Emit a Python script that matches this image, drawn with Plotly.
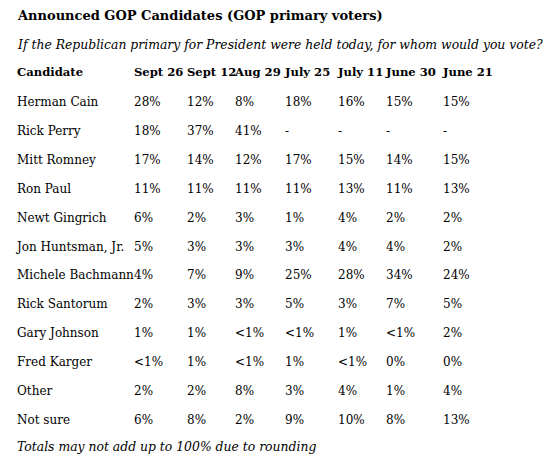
import plotly.graph_objects as go

# --- Data ---
TITLE = "Announced GOP Candidates (GOP primary voters)"
QUESTION = "If the Republican primary for President were held today, for whom would you vote?"
FOOTNOTE = "Totals may not add up to 100% due to rounding"

poll_dates = ["Sept 26", "Sept 12", "Aug 29", "July 25", "July 11", "June 30", "June 21"]

candidates = [
    "Herman Cain", "Rick Perry", "Mitt Romney", "Ron Paul", "Newt Gingrich",
    "Jon Huntsman, Jr.", "Michele Bachmann", "Rick Santorum", "Gary Johnson",
    "Fred Karger", "Other", "Not sure",
]

herman_cain = ["28%", "12%", "8%", "18%", "16%", "15%", "15%"]
rick_perry = ["18%", "37%", "41%", "-", "-", "-", "-"]
mitt_romney = ["17%", "14%", "12%", "17%", "15%", "14%", "15%"]
ron_paul = ["11%", "11%", "11%", "11%", "13%", "11%", "13%"]
newt_gingrich = ["6%", "2%", "3%", "1%", "4%", "2%", "2%"]
jon_huntsman = ["5%", "3%", "3%", "3%", "4%", "4%", "2%"]
michele_bachmann = ["4%", "7%", "9%", "25%", "28%", "34%", "24%"]
rick_santorum = ["2%", "3%", "3%", "5%", "3%", "7%", "5%"]
gary_johnson = ["1%", "1%", "<1%", "<1%", "1%", "<1%", "2%"]
fred_karger = ["<1%", "1%", "<1%", "1%", "<1%", "0%", "0%"]
other = ["2%", "2%", "8%", "3%", "4%", "1%", "4%"]
not_sure = ["6%", "8%", "2%", "9%", "10%", "8%", "13%"]

rows = [herman_cain, rick_perry, mitt_romney, ron_paul, newt_gingrich,
        jon_huntsman, michele_bachmann, rick_santorum, gary_johnson,
        fred_karger, other, not_sure]

# --- Layout (page pixel space) ---
W, H = 558, 459
PAGE_MARGIN = 8  # default body margin of the html page
LEFT = 17
COL_X = [134, 187, 235, 285, 338, 386, 443]
HEADER_Y = 73.5
ROW0_Y = 103
ROW_STEP = 28.9
FONT = "DejaVu Serif"
SIZE = 12
HEADER_SIZE = 11.6
TITLE_SIZE = 13
ITALIC_SIZE = 12.4

row_y = [ROW0_Y + i * ROW_STEP for i in range(len(candidates))]

fig = go.Figure()

# header row
fig.add_trace(go.Scatter(
    x=[LEFT] + COL_X,
    y=[HEADER_Y] * (len(poll_dates) + 1),
    text=["<b>Candidate</b>"] + [f"<b>{d}</b>" for d in poll_dates],
    mode="text", textposition="middle right",
    textfont=dict(family=FONT, size=HEADER_SIZE, color="black"),
    hoverinfo="skip", showlegend=False,
))

# candidate names
fig.add_trace(go.Scatter(
    x=[LEFT] * len(candidates),
    y=row_y,
    text=candidates,
    mode="text", textposition="middle right",
    textfont=dict(family=FONT, size=SIZE, color="black"),
    hoverinfo="skip", showlegend=False,
))

# one text trace per poll date
for j, date in enumerate(poll_dates):
    fig.add_trace(go.Scatter(
        x=[COL_X[j]] * len(rows),
        y=row_y,
        text=[r[j] for r in rows],
        mode="text", textposition="middle right",
        textfont=dict(family=FONT, size=SIZE, color="black"),
        name=date, hoverinfo="text", showlegend=False,
    ))

notes = [
    (15, f"<b>{TITLE}</b>", TITLE_SIZE),
    (44, f"<i>{QUESTION}</i>", ITALIC_SIZE),
    (446, f"<i>{FOOTNOTE}</i>", ITALIC_SIZE),
]
for y, txt, size in notes:
    fig.add_annotation(
        x=LEFT - 2, y=y, xref="x", yref="y", text=txt, showarrow=False,
        xanchor="left", yanchor="middle",
        font=dict(family=FONT, size=size, color="black"),
    )

fig.update_layout(
    width=W - PAGE_MARGIN, height=H - PAGE_MARGIN,
    margin=dict(l=0, r=0, t=0, b=0),
    paper_bgcolor="white", plot_bgcolor="white",
    xaxis=dict(range=[PAGE_MARGIN, W], visible=False, fixedrange=True),
    yaxis=dict(range=[H, PAGE_MARGIN], visible=False, fixedrange=True),
)

fig.write_html("out.html")
